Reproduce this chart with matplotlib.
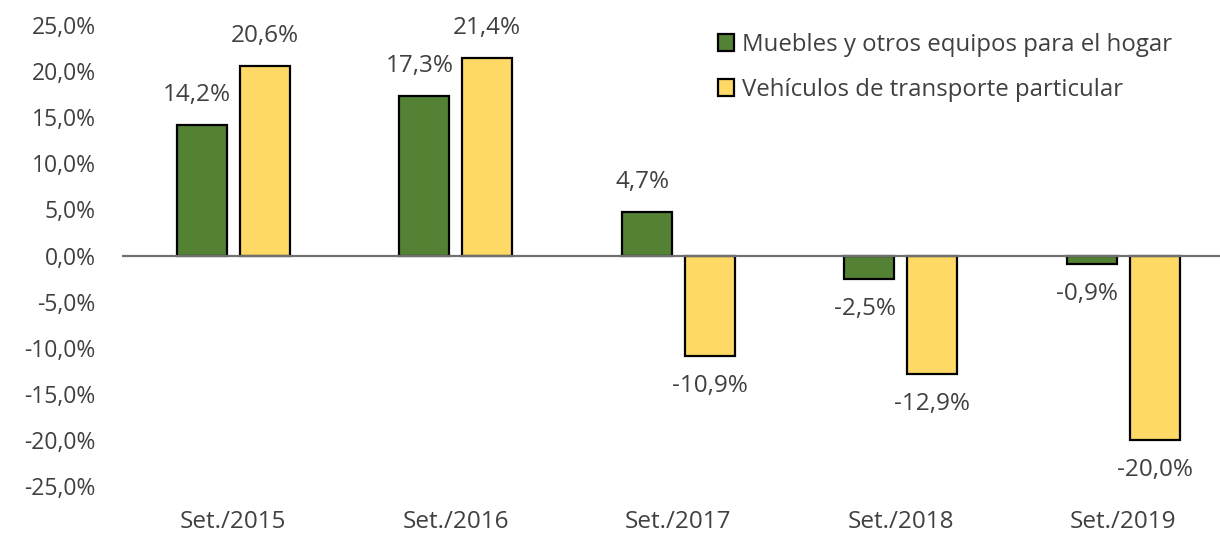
import numpy as np
import matplotlib
matplotlib.use('Agg')
import matplotlib.pyplot as plt
from matplotlib.ticker import FuncFormatter

plt.rcParams['font.family'] = ['Open Sans', 'DejaVu Sans']

## Data
categories = ['Set./2015', 'Set./2016', 'Set./2017', 'Set./2018', 'Set./2019']
muebles = [14.2, 17.3, 4.7, -2.5, -0.9]
vehiculos = [20.6, 21.4, -10.9, -12.9, -20.0]
series_names = ['Muebles y otros equipos para el hogar', 'Vehículos de transporte particular']
yticks = np.arange(-25, 26, 5)

green = '#548235'
yellow = '#FFD966'
text_col = '#404040'
fs = 16.5

fig = plt.figure(figsize=(12.2, 5.33), dpi=100, facecolor='white')
ax = fig.add_axes([122 / 1220, 47 / 533, 1 - 122 / 1220, 461 / 533])

x = np.arange(len(categories))
w = 0.225
off = 0.1416
b1 = ax.bar(x - off, muebles, w, color=green, edgecolor='black', linewidth=1.6, label=series_names[0], zorder=3)
b2 = ax.bar(x + off, vehiculos, w, color=yellow, edgecolor='black', linewidth=1.6, label=series_names[1], zorder=3)

ax.axhline(0, color='#707070', linewidth=1.6, zorder=4)

def fmt(v):
    return '{:.1f}%'.format(v).replace('.', ',')

for bars, vals, dx in [(b1, muebles, -0.02), (b2, vehiculos, 0.0)]:
    for rect, v in zip(bars, vals):
        cx = rect.get_x() + rect.get_width() / 2 + dx
        dy = 30 if v >= 0 else -30
        ax.annotate(fmt(v), (cx, v), xytext=(0, dy), textcoords='offset pixels',
                    ha='center', va='center', fontsize=17.5, color=text_col)

ax.set_xlim(-0.5, 4.435)
ax.set_ylim(-25, 25)
ax.set_yticks(yticks)
ax.yaxis.set_major_formatter(FuncFormatter(lambda v, p: fmt(v)))
ax.set_xticks(x)
ax.set_xticklabels(categories)
ax.tick_params(axis='y', length=0, labelsize=fs, labelcolor=text_col, pad=19)
ax.tick_params(axis='x', length=0, labelsize=17.5, labelcolor=text_col, pad=17)
for s in ax.spines.values():
    s.set_visible(False)

ax.legend(loc='upper left', bbox_to_anchor=(696 / 1220, 1 - 11 / 533), bbox_transform=fig.transFigure,
          frameon=False, fontsize=17.3, handlelength=0.7, handleheight=0.7, handletextpad=0.3,
          labelspacing=0.9, labelcolor=text_col)

fig.savefig('out.png', dpi=100, facecolor='white')
